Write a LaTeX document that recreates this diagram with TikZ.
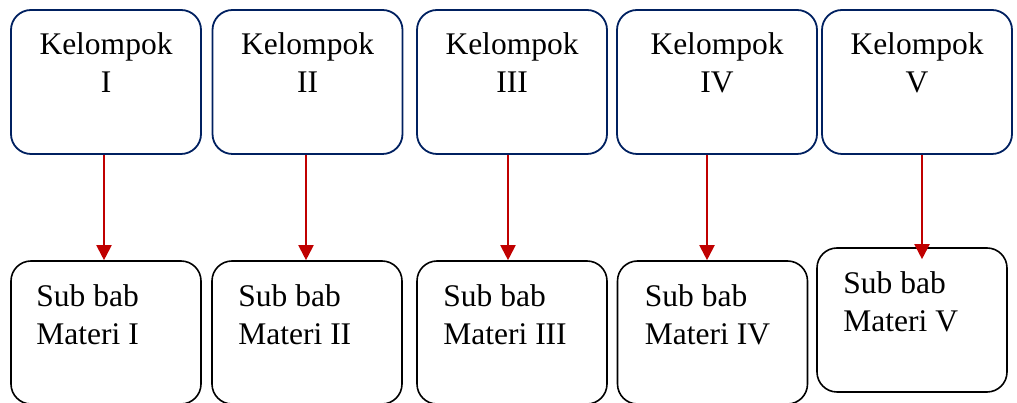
\documentclass[tikz,border=0pt]{standalone}
\usepackage{fontspec}
\setmainfont{Liberation Serif}
\usetikzlibrary{arrows.meta}
\definecolor{navy}{HTML}{002060}
\definecolor{arrred}{HTML}{C00000}
\tikzset{
  topbox/.style={draw=navy, line width=1.8pt, rounded corners=20pt, rectangle, inner sep=0pt, minimum height=144pt},
  botbox/.style={draw=black, line width=1.6pt, rounded corners=20pt, rectangle, inner sep=0pt, minimum height=143pt},
  toptxt/.style={anchor=north, inner sep=0pt, align=center, font=\fontsize{31.5}{38.5}\selectfont},
  bottxt/.style={anchor=north west, inner sep=0pt, align=left, font=\fontsize{31.5}{37.5}\selectfont},
  arr/.style={draw=arrred, line width=2pt, -{Triangle[width=15pt,length=15pt]}}
}
\begin{document}
\begin{tikzpicture}[x=1pt,y=1pt]
\useasboundingbox (0,0) rectangle (1017,403);
% top boxes (y from 393 to 249)
\node[topbox, minimum width=190pt] (t1) at (106,321) {};
\node[topbox, minimum width=190pt] (t2) at (307.5,321) {};
\node[topbox, minimum width=190pt] (t3) at (512,321) {};
\node[topbox, minimum width=200pt] (t4) at (717,321) {};
\node[topbox, minimum width=190pt] (t5) at (917,321) {};
\node[toptxt] (l1) at ([yshift=-23pt]t1.north) {Kelompok\\I};
\node[toptxt] (l2) at ([yshift=-23pt]t2.north) {Kelompok\\II};
\node[toptxt] (l3) at ([yshift=-23pt]t3.north) {Kelompok\\III};
\node[toptxt] (l4) at ([yshift=-23pt]t4.north) {Kelompok\\IV};
\node[toptxt] (l5) at ([yshift=-23pt]t5.north) {Kelompok\\V};
% bottom boxes
\node[botbox, minimum width=190pt] (b1) at (106,70.5) {};
\node[botbox, minimum width=190pt] (b2) at (307,70.5) {};
\node[botbox, minimum width=190pt] (b3) at (512,70.5) {};
\node[botbox, minimum width=190pt] (b4) at (712.5,70.5) {};
\node[botbox, minimum width=190pt, minimum height=144pt] (b5) at (912,83) {};
\node[bottxt] (s1) at ([xshift=26pt,yshift=-24.5pt]b1.north west) {Sub bab\\Materi I};
\node[bottxt] (s2) at ([xshift=27pt,yshift=-24.5pt]b2.north west) {Sub bab\\Materi II};
\node[bottxt] (s3) at ([xshift=27pt,yshift=-24.5pt]b3.north west) {Sub bab\\Materi III};
\node[bottxt] (s4) at ([xshift=28pt,yshift=-24.5pt]b4.north west) {Sub bab\\Materi IV};
\node[bottxt] (s5) at ([xshift=27pt,yshift=-24.5pt]b5.north west) {Sub bab\\Materi V};
% arrows
\coordinate (x1) at (104,0);
\coordinate (x2) at (306,0);
\coordinate (x3) at (508,0);
\coordinate (x4) at (707,0);
\coordinate (x5) at (922,0);
\draw[arr] (t1.south -| x1) -- (b1.north -| x1);
\draw[arr] (t2.south -| x2) -- (b2.north -| x2);
\draw[arr] (t3.south -| x3) -- (b3.north -| x3);
\draw[arr] (t4.south -| x4) -- (b4.north -| x4);
\draw[arr] (t5.south -| x5) -- ([yshift=-12pt]b5.north -| x5);
\end{tikzpicture}
\end{document}
